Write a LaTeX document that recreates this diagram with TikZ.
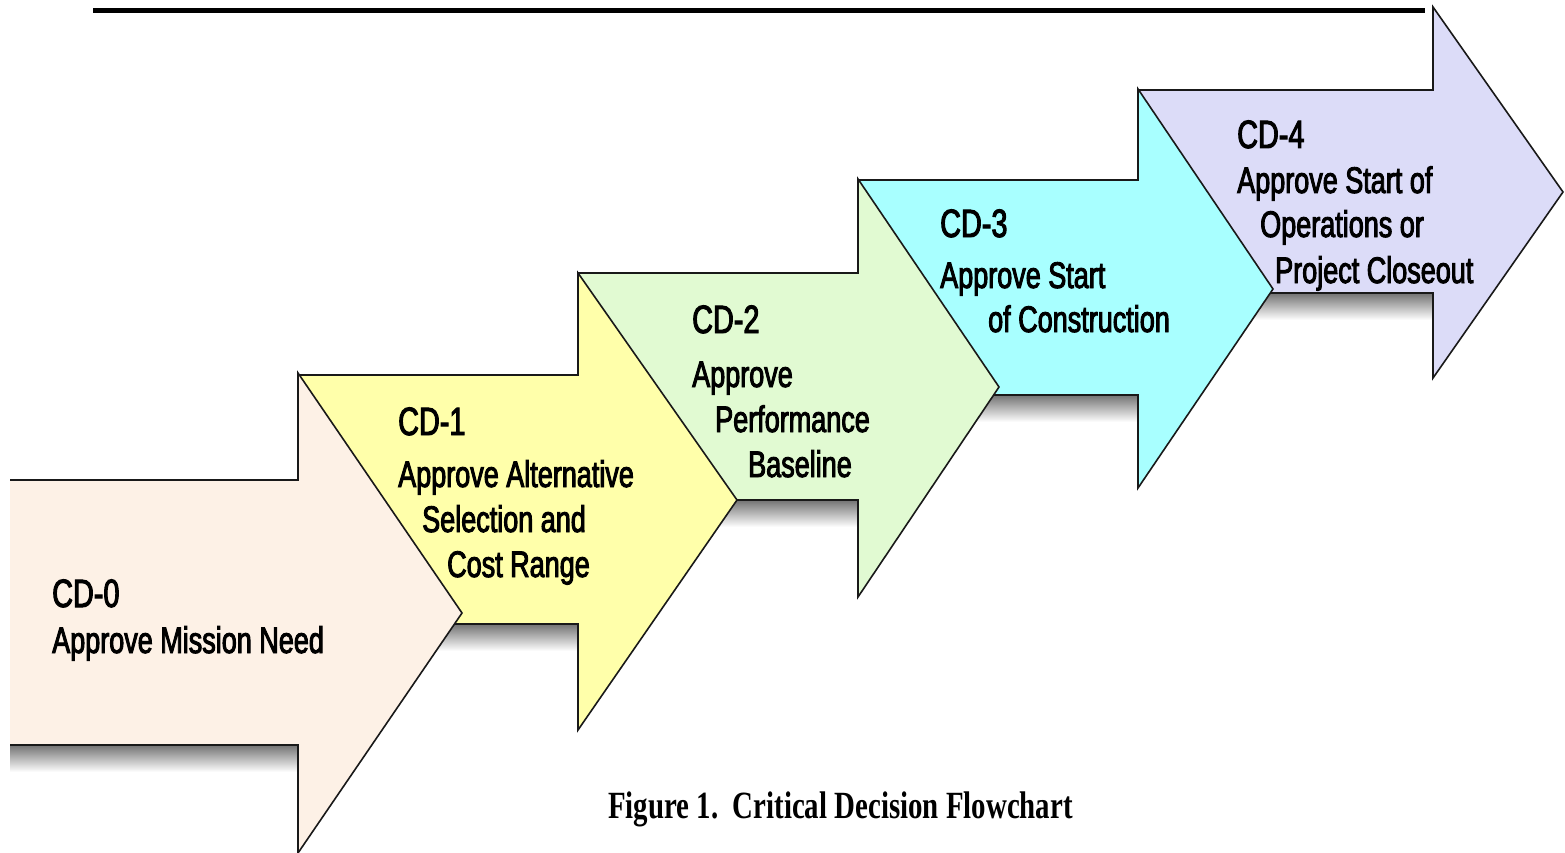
\documentclass[tikz,border=0pt]{standalone}
\usepackage{fontspec}
\newfontfamily\arrowfont[FakeStretch=0.73,FakeBold=2.5]{Liberation Sans}
\newfontfamily\capfont[FakeStretch=0.75]{Liberation Serif}
\definecolor{cdpeach}{HTML}{FDF1E6}
\definecolor{cdyellow}{HTML}{FFFFAA}
\definecolor{cdgreen}{HTML}{E1FAD2}
\definecolor{cdcyan}{HTML}{A8FFFF}
\definecolor{cdlav}{HTML}{DCDCF8}
\tikzset{
  arrowline/.style={draw=black!90, line width=1.6pt, line join=miter},
  shadowbox/.style={top color=black!55, bottom color=white, draw=none},
  lbl/.style={anchor=base west, inner sep=0pt, text=black, font=\arrowfont\fontsize{37}{40}\selectfont},
  cdlbl/.style={lbl, font=\arrowfont\fontsize{39.5}{42}\selectfont},
  caption/.style={anchor=base west, inner sep=0pt, font=\capfont\bfseries\fontsize{38.5}{40}\selectfont}
}
% #1 colour, #2 body left, #3 body top, #4 body bottom, #5 head base x,
% #6 head top, #7 tip x, #8 tip y, #9 head bottom
\newcommand{\cdarrow}[9]{%
  \fill[shadowbox] (#2,#4) rectangle (#5,{#4+27});
  \fill[#1] (#2,#3) -- (#5,#3) -- (#5,#6) -- (#7,#8) -- (#5,#9) -- (#5,#4) -- (#2,#4) -- cycle;
  \draw[arrowline] (#2,#4) -- (#5,#4) -- (#5,#9) -- (#7,#8) -- (#5,#6) -- (#5,#3) -- (#2,#3);
}
\begin{document}
\begin{tikzpicture}[x=1pt,y=-1pt]
\useasboundingbox (0,0) rectangle (1565,853);
\fill[white] (0,0) rectangle (1565,853);
% top rule
\coordinate (ruleL) at (93,11);
\coordinate (ruleR) at (1425,11);
\draw[line width=5pt] (ruleL) -- (ruleR);
% arrows, right to left so each covers the tail of the next
\cdarrow{cdlav}{1138}{90}{293}{1433}{7}{1563}{192}{378}
\cdarrow{cdcyan}{858}{180}{395}{1138}{89}{1273}{289}{488}
\cdarrow{cdgreen}{578}{273}{500}{858}{179}{999}{387}{597}
\cdarrow{cdyellow}{298}{375}{624}{578}{273}{737}{500}{730}
\cdarrow{cdpeach}{10}{480}{745}{298}{373}{462}{613}{853}
% labels
\node[cdlbl] (cd0) at (52,607) {CD-0};
\node[lbl] (cd0a) at (52,653) {Approve Mission Need};
\node[cdlbl] (cd1) at (398,435) {CD-1};
\node[lbl] (cd1a) at (398,487) {Approve Alternative};
\node[lbl] (cd1b) at (422,532) {Selection and};
\node[lbl] (cd1c) at (447,577) {Cost Range};
\node[cdlbl] (cd2) at (692,333) {CD-2};
\node[lbl] (cd2a) at (692,387) {Approve};
\node[lbl] (cd2b) at (715,432) {Performance};
\node[lbl] (cd2c) at (748,477) {Baseline};
\node[cdlbl] (cd3) at (940,237) {CD-3};
\node[lbl] (cd3a) at (940,288) {Approve Start};
\node[lbl] (cd3b) at (988,332) {of Construction};
\node[cdlbl] (cd4) at (1237,148) {CD-4};
\node[lbl] (cd4a) at (1237,193) {Approve Start of};
\node[lbl] (cd4b) at (1260,237) {Operations or};
\node[lbl] (cd4c) at (1275,283) {Project Closeout};
% caption
\node[caption] (fig) at (608,818) {Figure 1.\ \ Critical Decision Flowchart};
\end{tikzpicture}
\end{document}
